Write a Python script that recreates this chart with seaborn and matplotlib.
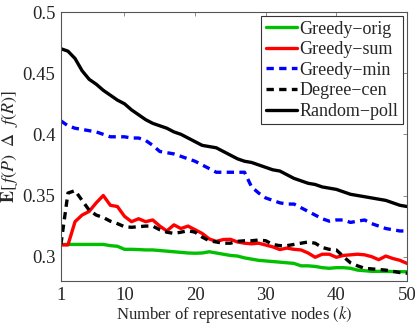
import numpy as np
import pandas as pd
import matplotlib
matplotlib.use("Agg")
import matplotlib.pyplot as plt
import seaborn as sns

k = list(range(1, 51))

greedy_orig = [0.310, 0.310, 0.310, 0.310, 0.310, 0.310, 0.310, 0.309, 0.3085, 0.306,
               0.306, 0.3058, 0.3055, 0.3055, 0.305, 0.3045, 0.304, 0.3035, 0.303, 0.3028,
               0.303, 0.304, 0.303, 0.302, 0.301, 0.3005, 0.299, 0.298, 0.297, 0.2965,
               0.296, 0.2955, 0.295, 0.2945, 0.2925, 0.2925, 0.292, 0.291, 0.2905, 0.291,
               0.291, 0.2905, 0.289, 0.2885, 0.288, 0.288, 0.288, 0.2878, 0.2877, 0.2877]

greedy_sum = [0.3096, 0.3096, 0.3286, 0.334, 0.337, 0.344, 0.350, 0.342, 0.341, 0.333,
              0.3286, 0.331, 0.3286, 0.330, 0.325, 0.321, 0.326, 0.323, 0.325, 0.322,
              0.319, 0.3145, 0.3125, 0.314, 0.3142, 0.312, 0.311, 0.3105, 0.311, 0.3095,
              0.308, 0.3058, 0.307, 0.306, 0.3055, 0.303, 0.2995, 0.302, 0.302, 0.2995,
              0.301, 0.3015, 0.302, 0.3015, 0.300, 0.2975, 0.3005, 0.2985, 0.297, 0.2945]

greedy_min = [0.411, 0.407, 0.405, 0.404, 0.403, 0.402, 0.400, 0.398, 0.398, 0.398,
              0.397, 0.397, 0.395, 0.391, 0.386, 0.385, 0.384, 0.382, 0.380, 0.378,
              0.375, 0.372, 0.369, 0.369, 0.369, 0.369, 0.369, 0.357, 0.352, 0.348,
              0.346, 0.344, 0.343, 0.343, 0.340, 0.337, 0.334, 0.331, 0.329, 0.330,
              0.330, 0.328, 0.329, 0.330, 0.327, 0.325, 0.323, 0.322, 0.321, 0.321]

degree_cen = [0.310, 0.352, 0.354, 0.346, 0.338, 0.334, 0.332, 0.329, 0.327, 0.3245,
              0.324, 0.3245, 0.325, 0.325, 0.322, 0.320, 0.319, 0.320, 0.3212, 0.320,
              0.316, 0.313, 0.312, 0.311, 0.311, 0.3125, 0.313, 0.313, 0.3136, 0.313,
              0.310, 0.309, 0.309, 0.310, 0.311, 0.312, 0.311, 0.3075, 0.306, 0.3055,
              0.300, 0.295, 0.2925, 0.2905, 0.290, 0.2895, 0.289, 0.288, 0.287, 0.2864]

random_poll = [0.470, 0.468, 0.462, 0.452, 0.445, 0.441, 0.436, 0.432, 0.428, 0.425,
               0.420, 0.416, 0.412, 0.409, 0.407, 0.405, 0.402, 0.400, 0.397, 0.394,
               0.391, 0.390, 0.389, 0.386, 0.383, 0.380, 0.378, 0.377, 0.375, 0.373,
               0.371, 0.370, 0.367, 0.364, 0.362, 0.360, 0.359, 0.357, 0.356, 0.355,
               0.353, 0.351, 0.350, 0.349, 0.348, 0.347, 0.346, 0.344, 0.342, 0.341]

series_names = ["Greedy\u2212orig", "Greedy\u2212sum", "Greedy\u2212min", "Degree\u2212cen", "Random\u2212poll"]
series_values = [greedy_orig, greedy_sum, greedy_min, degree_cen, random_poll]

x_ticks = [1, 10, 20, 30, 40, 50]
y_ticks = [0.3, 0.35, 0.4, 0.45, 0.5]
y_tick_labels = ["0.3", "0.35", "0.4", "0.45", "0.5"]

sns.set_style("white")
plt.rcParams["font.family"] = ["Liberation Serif", "DejaVu Serif"]
plt.rcParams["mathtext.fontset"] = "stix"

colors = ["#00c000", "#ff0000", "#0000ff", "#000000", "#000000"]
styles = ["-", "-", (0, (2.2, 1.6)), (0, (2.2, 1.6)), "-"]

fig = plt.figure(figsize=(4.2, 3.25), dpi=100)
ax = fig.add_axes([0.145, 0.135, 0.824, 0.828])

for name, vals, c, ls in zip(series_names, series_values, colors, styles):
    df = pd.DataFrame({"k": k, "v": vals})
    sns.lineplot(data=df, x="k", y="v", ax=ax, color=c, linestyle=ls, linewidth=2.4, label=name)

ax.set_xlim(1, 50)
ax.set_ylim(0.28, 0.5)
ax.set_xticks(x_ticks)
ax.set_yticks(y_ticks)
ax.set_yticklabels(y_tick_labels)
ax.tick_params(direction="in", top=True, right=True, labelsize=13.5, length=3, width=0.6,
               color="#777777", pad=4)
for sp in ax.spines.values():
    sp.set_color("#555555")
    sp.set_linewidth(0.8)

ax.set_xlabel(r"Number of representative nodes $\mathit{(k)}$", fontsize=12, labelpad=0)
ax.set_ylabel(r"$\mathbf{E}[\,f(P)\ \ \Delta\ \ f(R)]$", fontsize=13, labelpad=2)

leg = ax.legend(loc="upper right", fontsize=13, frameon=True, fancybox=False, framealpha=1,
                edgecolor="#333333", handlelength=1.7, handletextpad=0.17, labelspacing=0.2,
                borderpad=0.25, borderaxespad=0.22)
leg.get_frame().set_linewidth(0.8)

fig.savefig("out.png", dpi=100)
